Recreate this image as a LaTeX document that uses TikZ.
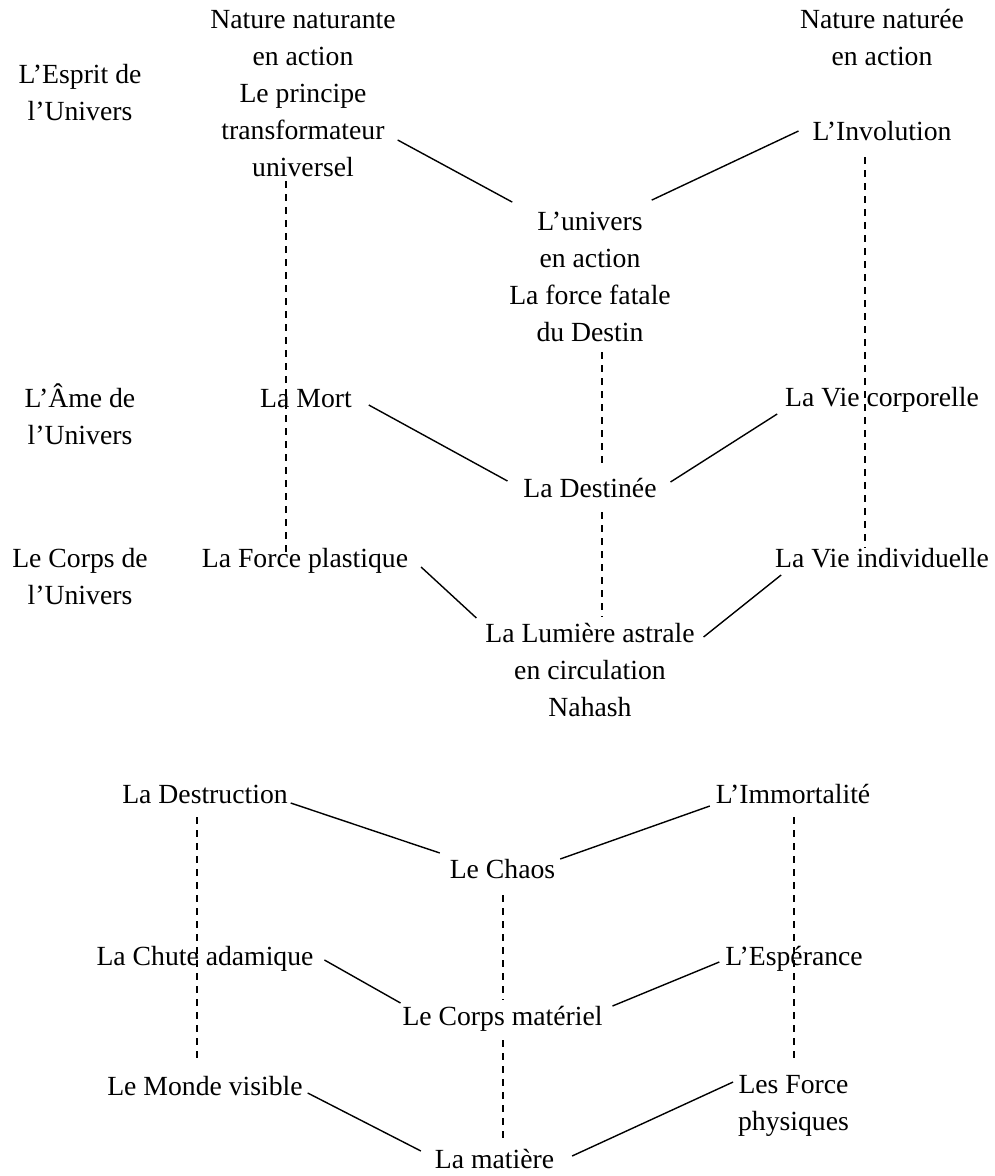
\documentclass[tikz,border=0pt]{standalone}
\usepackage{fontspec}
\setmainfont{Liberation Serif}
\usetikzlibrary{calc}
\newcommand\ml[1]{\begin{tabular}[t]{@{}c@{}}#1\end{tabular}}
\tikzset{
  txt/.style={inner sep=0pt, outer sep=0pt, anchor=base, font=\fontsize{27.7}{37}\selectfont},
  link/.style={line width=1.4pt},
  dlink/.style={line width=1.3pt, dash pattern=on 7pt off 6pt},
}
\begin{document}
\begin{tikzpicture}[x=1pt, y=-1pt]
\useasboundingbox (0,0) rectangle (995,1176);
% row labels
\node[txt] (esprit) at (80,83) {\ml{L’Esprit de\\l’Univers}};
\node[txt] (ame) at (80,407) {\ml{L’Âme de\\l’Univers}};
\node[txt] (corpsu) at (80,567) {\ml{Le Corps de\\l’Univers}};
% upper tree
\node[txt] (nn) at (303,28) {\ml{Nature naturante\\en action\\Le principe\\transformateur\\universel}};
\node[txt] (nne) at (882,28) {\ml{Nature naturée\\en action}};
\node[txt] (involution) at (882,140) {\ml{L’Involution}};
\node[txt] (univers) at (590,230) {\ml{L’univers\\en action\\La force fatale\\du Destin}};
\node[txt] (mort) at (306,407) {\ml{La Mort}};
\node[txt] (viecorp) at (882,406) {\ml{La Vie corporelle}};
\node[txt] (destinee) at (590,497) {\ml{La Destinée}};
\node[txt] (force) at (305,567) {\ml{La Force plastique}};
\node[txt] (vieind) at (882,567) {\ml{La Vie individuelle}};
\node[txt] (lumiere) at (590,642) {\ml{La Lumière astrale\\en circulation\\Nahash}};
% lower tree
\node[txt] (destruction) at (205,803) {\ml{La Destruction}};
\node[txt] (immortalite) at (793,803) {\ml{L’Immortalité}};
\node[txt] (chaos) at (502.5,878) {\ml{Le Chaos}};
\node[txt] (chute) at (205,965) {\ml{La Chute adamique}};
\node[txt] (esperance) at (794,965) {\ml{L’Espérance}};
\node[txt] (corpsmat) at (502.5,1025) {\ml{Le Corps matériel}};
\node[txt] (monde) at (205,1095) {\ml{Le Monde visible}};
\node[txt] (forces) at (793.5,1093) {\ml{Les Force\\physiques}};
\node[txt] (matiere) at (494.5,1168) {\ml{La matière}};
% solid connectors, upper
\draw[link] ($(nn.base east)+(2,112)$) -- ($(univers.north west)+(3,-2)$);
\draw[link] ($(involution.base west)+(-14,-9)$) -- ($(univers.north east)+(-19,-4)$);
\draw[link] ($(mort.base east)+(17,-2)$) -- ($(destinee.base west)+(-16,-16)$);
\draw[link] ($(viecorp.base west)+(-8,8)$) -- ($(destinee.base east)+(14,-15)$);
\draw[link] ($(force.base east)+(13,0)$) -- ($(lumiere.base west)+(-9,-24)$);
\draw[link] ($(vieind.base west)+(6,8)$) -- ($(lumiere.base east)+(9,-5)$);
% solid connectors, lower
\draw[link] ($(destruction.base east)+(3,0)$) -- ($(chaos.base west)+(-10,-25)$);
\draw[link] ($(immortalite.base west)+(-6,3)$) -- ($(chaos.base east)+(5,-19)$);
\draw[link] ($(chute.base east)+(11,-5)$) -- ($(corpsmat.base west)+(-2,-22)$);
\draw[link] ($(esperance.base west)+(-6,-3)$) -- ($(corpsmat.base east)+(10,-19)$);
\draw[link] ($(monde.base east)+(5,-2)$) -- ($(matiere.base west)+(-14,-17)$);
\draw[link] ($(forces.base west)+(-5,-11)$) -- ($(matiere.base east)+(18,-12)$);
% dashed connectors, upper
\draw[dlink] ($(nn.south)+(-17,-6)$) -- ($(force.north)+(-19,11)$);
\draw[dlink] ($(involution.south)+(-17,6)$) -- ($(vieind.north)+(-17,7)$);
\draw[dlink] ($(univers.south)+(12,0)$) -- ($(destinee.north)+(12,-4)$);
\draw[dlink] ($(destinee.south)+(12,4)$) -- ($(lumiere.north)+(12,1)$);
% dashed connectors, lower
\draw[dlink] ($(destruction.south)+(-8,3)$) -- ($(monde.north)+(-8,-7)$);
\draw[dlink] ($(immortalite.south)+(1,3)$) -- ($(forces.north)+(0.5,-5)$);
\draw[dlink] ($(chaos.south)+(0.5,6)$) -- ($(corpsmat.north)+(0.5,1)$);
\draw[dlink] ($(corpsmat.south)+(0.5,4)$) -- ($(matiere.north)+(8.5,1)$);
\end{tikzpicture}
\end{document}
